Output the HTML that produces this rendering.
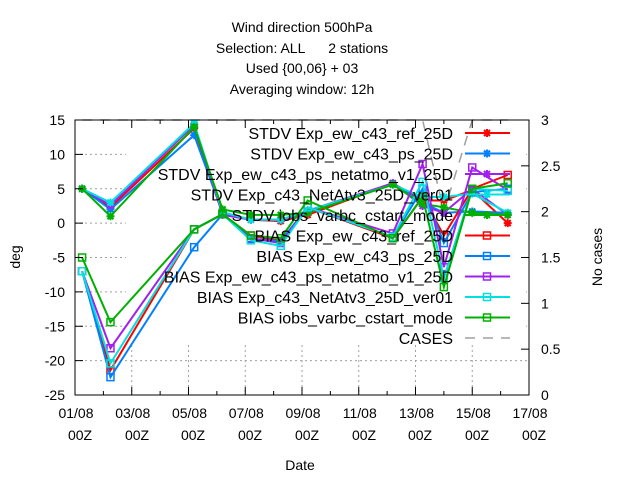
<!DOCTYPE html>
<html><head><meta charset="utf-8"><style>
body{margin:0;background:#fff}
svg text{font-family:"Liberation Sans",sans-serif;font-size:14px;fill:#000}
svg .lg{font-size:16px}
</style></head><body>
<svg id="chart" width="640" height="480" viewBox="0 0 640 480" xmlns="http://www.w3.org/2000/svg">
<g id="title" text-anchor="middle">
<text x="302" y="32">Wind direction 500hPa</text>
<text x="302" y="53" style="white-space:pre">Selection: ALL      2 stations</text>
<text x="302" y="73">Used {00,06} + 03</text>
<text x="302" y="94">Averaging window: 12h</text>
</g>
<g id="grid"></g>
<rect x="126" y="122" width="400" height="223" fill="#fff"/>
<g id="series"></g>
<rect x="75" y="120" width="454" height="275" fill="none" stroke="#000"/>
<g id="axes"></g>
<g id="x-time-labels" text-anchor="middle">
<text x="80" y="440">00Z</text>
<text x="137" y="440">00Z</text>
<text x="193" y="440">00Z</text>
<text x="250" y="440">00Z</text>
<text x="307" y="440">00Z</text>
<text x="364" y="440">00Z</text>
<text x="420" y="440">00Z</text>
<text x="477" y="440">00Z</text>
<text x="534" y="440">00Z</text>
</g>
<g id="legend"></g>
<text x="300" y="470" text-anchor="middle">Date</text>
<text transform="translate(20,257) rotate(-90)" text-anchor="middle">deg</text>
<text transform="translate(602,257) rotate(-90)" text-anchor="middle">No cases</text>
</svg>
<script>
const days=[0.25,1.25,4.2,5.2,6.2,7.25,8.2,11.2,12.25,13,14,15.25];
const xTickLabels=["01/08","03/08","05/08","07/08","09/08","11/08","13/08","15/08","17/08"];
const yTicks=[15,10,5,0,-5,-10,-15,-20,-25];
const y2Ticks=[3,2.5,2,1.5,1,0.5,0];
const cases=[3,3,3,3,3,3,3,3,3,2,3,3];
const stdvRef=[5,2.3,13.8,1.5,0.5,0.3,1.2,5.8,3.3,3.3,4.8,0];
const stdvPs=[5,2.0,12.8,1.5,0.5,0.5,1.5,5.8,3.0,1.5,1.7,1.5];
const stdvNet=[5,2.6,14.3,1.2,0.5,0.5,1.8,5.8,2.5,1.5,5.0,1.2];
const stdvNat=[5,3.0,14.5,1.6,0.5,0.5,1.8,5.6,3.8,3.8,4.3,1.5];
const stdvIobs=[5,1.0,14.0,2.0,1.2,1.2,1.5,5.6,2.8,2.3,1.5,1.2];
const biasRef=[-7,-21.4,-0.9,1.3,-1.8,-2.6,2.3,-2.2,3.8,-1.8,5,7];
const biasPs=[-7,-22.4,-3.5,1.3,-2.3,-2.6,2.3,-2,5,-2.9,4.5,5];
const biasNet=[-7,-18.2,-0.9,1.3,-2.2,-2.9,2.3,-1.5,8.6,-6.4,8.1,4.8];
const biasNat=[-7,-20.4,-0.9,1.3,-2.5,-3.3,2.3,-2,6,-8,5,4.7];
const biasIobs=[-5,-14.4,-0.9,1.3,-1.8,-2.2,3.3,-2.2,3.8,-9.3,5,5.8];

const NS="http://www.w3.org/2000/svg";
const L=75,R=529,T=120,B=395;
const X=d=>L+(d/16)*(R-L);
const Y=v=>T+(15-v)/40*(B-T);
const Y2=v=>B-v/3*(B-T);
function mk(tag,at,parent){const e=document.createElementNS(NS,tag);for(const k in at)e.setAttribute(k,at[k]);parent.appendChild(e);return e;}
const grid=document.getElementById('grid'),axes=document.getElementById('axes'),ser=document.getElementById('series'),leg=document.getElementById('legend');
yTicks.forEach(v=>{
  const g=mk('line',{x1:L,x2:R,y1:Y(v),y2:Y(v),stroke:'#a0a0a0','stroke-dasharray':'2,3'},grid);
  
  
  mk('line',{x1:L,x2:L+8,y1:Y(v),y2:Y(v),stroke:'#000'},axes);
  const t=mk('text',{x:L-10,y:Y(v)+5,'text-anchor':'end'},axes);t.textContent=v;
  
  
});
y2Ticks.forEach(v=>{
  mk('line',{x1:R-8,x2:R,y1:Y2(v),y2:Y2(v),stroke:'#000'},axes);
  const t=mk('text',{x:R+12,y:Y2(v)+5},axes);t.textContent=v;
  
  
});
for(let d=0;d<=16;d++){
  const x=X(d),big=d%2==0;
  mk('line',{x1:x,x2:x,y1:B,y2:B-(big?8:4),stroke:'#000'},axes);
  mk('line',{x1:x,x2:x,y1:T,y2:T+(big?8:4),stroke:'#000'},axes);
}
xTickLabels.forEach((s,i)=>{
  const x=X(i*2);
  if(i>0&&i<8){const g=mk('line',{x1:x,x2:x,y1:T,y2:B,stroke:'#a0a0a0','stroke-dasharray':'2,3'},grid);
  
  }
  const t=mk('text',{x:x+1,y:418,'text-anchor':'middle'},axes);t.textContent=s;
  
  
});
function star(g,x,y,c){mk('path',{d:`M${x-4},${y}h8M${x},${y-4}v8M${x-3},${y-3}l6,6M${x-3},${y+3}l6,-6`,stroke:c,'stroke-width':2},g);}
function sq(g,x,y,c){mk('rect',{x:x-3.5,y:y-3.5,width:7,height:7,fill:'none',stroke:c,'stroke-width':1.5},g);}
const series=[
 ['STDV Exp_ew_c43_ref_25D',stdvRef,'#ff0000',star],
 ['STDV Exp_ew_c43_ps_25D',stdvPs,'#0080ff',star],
 ['STDV Exp_ew_c43_ps_netatmo_v1_25D',stdvNet,'#a020f0',star],
 ['STDV Exp_c43_NetAtv3_25D_ver01',stdvNat,'#00e0e0',star],
 ['STDV iobs_varbc_cstart_mode',stdvIobs,'#00b000',star],
 ['BIAS Exp_ew_c43_ref_25D',biasRef,'#ff0000',sq],
 ['BIAS Exp_ew_c43_ps_25D',biasPs,'#0080ff',sq],
 ['BIAS Exp_ew_c43_ps_netatmo_v1_25D',biasNet,'#a020f0',sq],
 ['BIAS Exp_c43_NetAtv3_25D_ver01',biasNat,'#00e0e0',sq],
 ['BIAS iobs_varbc_cstart_mode',biasIobs,'#00b000',sq]
];
const cg=mk('g',{},ser);


mk('polyline',{points:days.map((d,i)=>X(d)+','+Y2(cases[i])).join(' '),fill:'none',stroke:'#a0a0a0','stroke-width':1.5,'stroke-dasharray':'10,8'},cg);
series.forEach((s,k)=>{
  const g=mk('g',{},ser);
  
  
  mk('polyline',{points:days.map((d,i)=>X(d)+','+Y(s[1][i])).join(' '),fill:'none',stroke:s[2],'stroke-width':2},g);
  days.forEach((d,i)=>s[3](g,X(d),Y(s[1][i]),s[2]));
  const y=133+k*20.5;
  const le=mk('g',{},leg);
  
  
  const t=mk('text',{x:453,y:y+6,'text-anchor':'end','class':'lg'},le);t.textContent=s[0];
  mk('line',{x1:465,x2:510,y1:y,y2:y,stroke:s[2],'stroke-width':2},le);
  s[3](le,487,y,s[2]);
});
const le=mk('g',{},leg);


const ct=mk('text',{x:453,y:133+10*20.5+6,'text-anchor':'end','class':'lg'},le);ct.textContent='CASES';
mk('line',{x1:465,x2:510,y1:338,y2:338,stroke:'#a0a0a0','stroke-width':1.5,'stroke-dasharray':'10,8'},le);
</script>
</body></html>
